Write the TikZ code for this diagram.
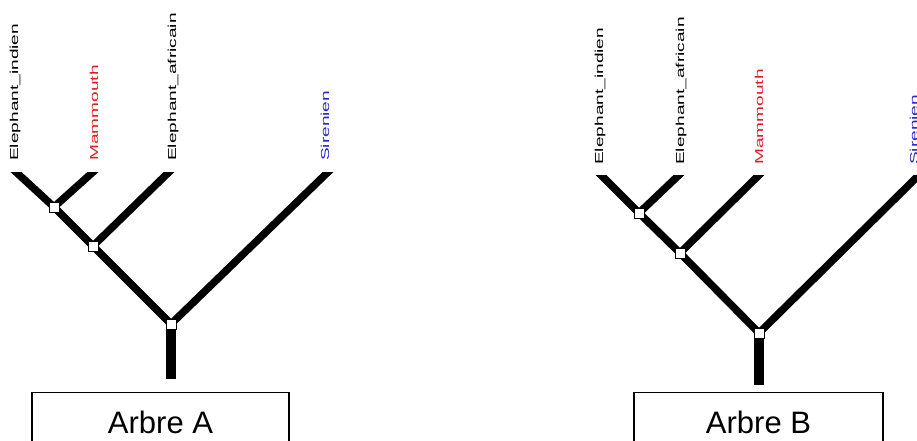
\documentclass[tikz,border=0pt]{standalone}
\usepackage{fontspec}
\setmainfont{Liberation Sans}
\usetikzlibrary{backgrounds}
\definecolor{lblred}{RGB}{225,30,40}
\definecolor{lblblue}{RGB}{40,40,205}
\begin{document}
\begin{tikzpicture}[x=1pt,y=-1pt,
  nd/.style={draw=black,fill=white,line width=0.8pt,minimum size=10pt,inner sep=0pt},
  branch/.style={line width=7.5pt,line cap=butt},
  tipbranch/.style={line width=7.5pt,line cap=butt,shorten >=-8pt},
  stem/.style={line width=10pt,line cap=butt},
  lbl/.style={rotate=90,anchor=base west,inner sep=0pt,font=\fontsize{11.5}{13}\selectfont},
  titlebox/.style={draw=black,line width=1.2pt,anchor=north,minimum height=60pt,inner sep=0pt,font=\fontsize{31}{36}\selectfont}]
\useasboundingbox (0,0) rectangle (917,441);
\clip (0,0) rectangle (917,441);

% ---------- Tree A ----------
\node[nd] (rA) at (171,324) {};
\node[nd] (nA2) at (93,246) {};
\node[nd] (nA1) at (54,207) {};
\coordinate (tA1) at (16,172);
\coordinate (tA2) at (93,172);
\coordinate (tA3) at (169,172);
\coordinate (tA4) at (328,172);
\coordinate (bA) at (171,379);

% ---------- Tree B ----------
\node[nd] (rB) at (759,333) {};
\node[nd] (nB2) at (680,253) {};
\node[nd] (nB1) at (639,213) {};
\coordinate (tB1) at (601,175);
\coordinate (tB2) at (679,175);
\coordinate (tB3) at (759,175);
\coordinate (tB4) at (919,175);
\coordinate (bB) at (759,385);

\begin{pgfonlayer}{background}
  \draw[stem] (rA.center) -- (bA);
  \draw[branch] (rA.center) -- (nA2.center) -- (nA1.center);
  \begin{scope}
    \clip (0,172) rectangle (917,441);
    \draw[tipbranch] (nA1.center) -- (tA1);
    \draw[tipbranch] (nA1.center) -- (tA2);
    \draw[tipbranch] (nA2.center) -- (tA3);
    \draw[tipbranch] (rA.center) -- (tA4);
  \end{scope}
  \draw[stem] (rB.center) -- (bB);
  \draw[branch] (rB.center) -- (nB2.center) -- (nB1.center);
  \begin{scope}
    \clip (0,175) rectangle (917,441);
    \draw[tipbranch] (nB1.center) -- (tB1);
    \draw[tipbranch] (nB1.center) -- (tB2);
    \draw[tipbranch] (nB2.center) -- (tB3);
    \draw[tipbranch] (rB.center) -- (tB4);
  \end{scope}
\end{pgfonlayer}

% labels A
\node[lbl] (lA1) at (18,161) {\scalebox{1.66}[1]{Elephant\_indien}};
\node[lbl,text=lblred] (lA2) at (98,161) {\scalebox{1.66}[1]{Mammouth}};
\node[lbl] (lA3) at (176,161) {\scalebox{1.66}[1]{Elephant\_africain}};
\node[lbl,text=lblblue] (lA4) at (329,161) {\scalebox{1.66}[1]{Sirenien}};
% labels B
\node[lbl] (lB1) at (603,165) {\scalebox{1.66}[1]{Elephant\_indien}};
\node[lbl] (lB2) at (684,165) {\scalebox{1.66}[1]{Elephant\_africain}};
\node[lbl,text=lblred] (lB3) at (763,165) {\scalebox{1.66}[1]{Mammouth}};
\node[lbl,text=lblblue] (lB4) at (918,165) {\scalebox{1.66}[1]{Sirenien}};

% title boxes
\node[titlebox,minimum width=257pt] (boxA) at (160.5,392) {Arbre A};
\node[titlebox,minimum width=249pt] (boxB) at (758.5,392) {Arbre B};
\end{tikzpicture}
\end{document}
